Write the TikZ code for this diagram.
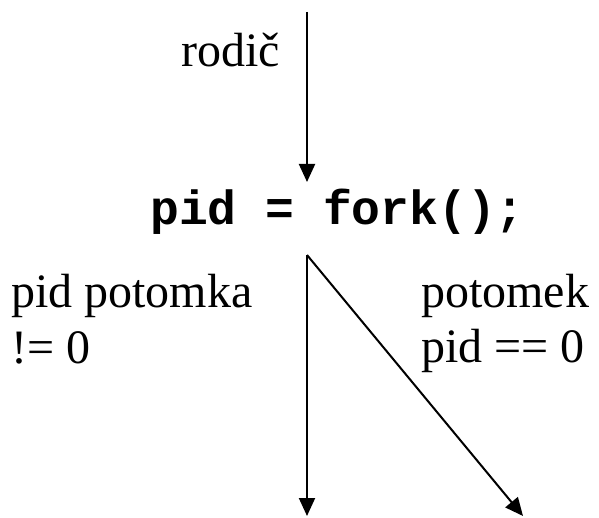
\documentclass[tikz,border=0pt]{standalone}
\usepackage{fontspec}
\setmainfont{Liberation Serif}
\newfontfamily\codefont{Liberation Mono}
\usetikzlibrary{arrows.meta}
\begin{document}
\begin{tikzpicture}[x=1pt,y=1pt,
  lbl/.style={inner sep=0pt,anchor=base west,font=\fontsize{48}{55}\selectfont},
  codelbl/.style={inner sep=0pt,anchor=base west,font=\fontsize{48}{55}\selectfont\codefont\bfseries},
  flow/.style={line width=2pt,-{Triangle[length=18pt,width=16pt]}}]
\useasboundingbox (0,0) rectangle (599,517);
\node[lbl] (rodic) at (181,450) {rodič};
\node[codelbl] (fork) at (150,292) {pid = fork();};
\node[lbl] (lp1) at (11,209) {pid potomka};
\node[lbl] (lp2) at (11,154) {!= 0};
\node[lbl] (rp1) at (421,210) {potomek};
\node[lbl] (rp2) at (421,155) {pid == 0};
\coordinate (top) at (307,505);
\coordinate (intip) at (307,335);
\coordinate (split) at (307,262);
\coordinate (parent) at (307,1);
\coordinate (child) at (523,1);
\draw[flow] (top) -- (intip);
\draw[flow] (split) -- (parent);
\draw[flow] (split) -- (child);
\end{tikzpicture}
\end{document}
